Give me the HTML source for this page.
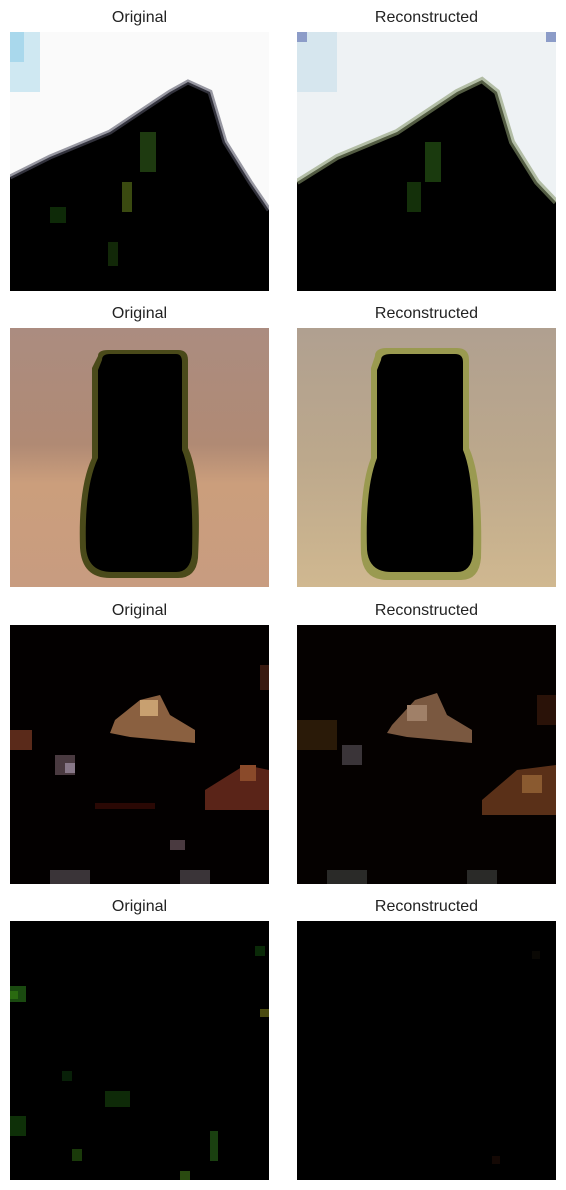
<!DOCTYPE html>
<html><head><meta charset="utf-8"><style>
body{margin:0;background:#fff;width:566px;height:1190px;position:relative;overflow:hidden;font-family:"Liberation Sans","DejaVu Sans",sans-serif}
.t{position:absolute;width:259px;text-align:center;font-size:16px;color:#222}
svg.p{position:absolute;width:259px;height:259px}
</style></head><body>
<div class="t" style="left:10px;top:9px">Original</div>
<div class="t" style="left:297px;top:9px">Reconstructed</div>
<div class="t" style="left:10px;top:305px">Original</div>
<div class="t" style="left:297px;top:305px">Reconstructed</div>
<div class="t" style="left:10px;top:602px">Original</div>
<div class="t" style="left:297px;top:602px">Reconstructed</div>
<div class="t" style="left:10px;top:898px">Original</div>
<div class="t" style="left:297px;top:898px">Reconstructed</div>

<svg class="p" style="left:10px;top:32px" viewBox="0 0 259 259">
<rect width="259" height="259" fill="#fafafa"/>
<rect width="30" height="60" fill="#cfe8f2"/><rect width="14" height="30" fill="#a9d8ec"/>
<polygon points="0,145 40,125 100,100 160,60 178,50 200,60 215,110 240,150 259,178 259,259 0,259" fill="#000"/>
<polyline points="0,145 40,125 100,100 160,60 178,50 200,60 215,110 240,150 259,178" fill="none" stroke="#556" stroke-width="5" opacity=".6"/>
<rect x="130" y="100" width="16" height="40" fill="#1e3a10"/><rect x="112" y="150" width="10" height="30" fill="#3a4a10"/>
<rect x="40" y="175" width="16" height="16" fill="#0e2a08"/><rect x="98" y="210" width="10" height="24" fill="#122808"/>
</svg>
<svg class="p" style="left:297px;top:32px" viewBox="0 0 259 259">
<rect width="259" height="259" fill="#eef2f4"/>
<rect width="40" height="60" fill="#d6e6ee"/><rect width="10" height="10" fill="#8c9cc8"/><rect x="249" width="10" height="10" fill="#8c9cc8"/>
<polygon points="0,150 40,125 100,100 160,60 185,48 200,60 215,110 240,150 259,170 259,259 0,259" fill="#000"/>
<polyline points="0,150 40,125 100,100 160,60 185,48 200,60 215,110 240,150 259,170" fill="none" stroke="#8a9a70" stroke-width="6" opacity=".6"/>
<rect x="128" y="110" width="16" height="40" fill="#1a3a0e"/><rect x="110" y="150" width="14" height="30" fill="#14300a"/>
</svg>

<svg class="p" style="left:10px;top:328px" viewBox="0 0 259 259">
<defs><linearGradient id="g1" x1="0" y1="0" x2="0" y2="1"><stop offset="0" stop-color="#ab8c80"/><stop offset=".45" stop-color="#b08a74"/><stop offset=".6" stop-color="#cb9e7c"/><stop offset="1" stop-color="#c89c80"/></linearGradient></defs>
<rect width="259" height="259" fill="url(#g1)"/>
<path d="M88,28 Q88,22 98,22 L168,22 Q178,22 178,32 L178,120 Q192,150 188,230 Q186,250 168,250 L100,250 Q72,250 70,220 Q68,160 82,130 L82,40 Z" fill="#4a4a1a"/>
<path d="M92,32 Q92,26 100,26 L166,26 Q172,26 172,34 L172,122 Q184,150 182,226 Q180,244 166,244 L102,244 Q78,244 76,220 Q74,160 88,130 L88,42 Z" fill="#000"/>
</svg>
<svg class="p" style="left:297px;top:328px" viewBox="0 0 259 259">
<defs><linearGradient id="g2" x1="0" y1="0" x2="0" y2="1"><stop offset="0" stop-color="#b0a090"/><stop offset=".5" stop-color="#bca88c"/><stop offset="1" stop-color="#d0b890"/></linearGradient></defs>
<rect width="259" height="259" fill="url(#g2)"/>
<path d="M78,28 Q78,20 90,20 L160,20 Q172,20 172,32 L172,120 Q186,150 184,230 Q182,252 164,252 L90,252 Q66,252 64,226 Q62,160 74,130 L74,40 Z" fill="#9a9a50"/>
<path d="M84,32 Q84,26 94,26 L158,26 Q166,26 166,34 L166,122 Q178,150 176,226 Q174,244 160,244 L94,244 Q72,244 70,222 Q68,160 80,130 L80,42 Z" fill="#000"/>
</svg>

<svg class="p" style="left:10px;top:625px" viewBox="0 0 259 259">
<rect width="259" height="259" fill="#030000"/>
<polygon points="105,95 130,75 150,70 160,90 185,105 185,118 120,112 100,108" fill="#8a6040"/>
<rect x="130" y="75" width="18" height="16" fill="#c8a070"/>
<rect x="0" y="105" width="22" height="20" fill="#5a2a1a"/><rect x="45" y="130" width="20" height="20" fill="#4a3a40"/>
<rect x="55" y="138" width="10" height="10" fill="#887888"/>
<polygon points="195,165 235,140 259,145 259,185 195,185" fill="#5a2418"/><rect x="230" y="140" width="16" height="16" fill="#8a4a2a"/>
<rect x="85" y="178" width="60" height="6" fill="#2a0804"/>
<rect x="40" y="245" width="40" height="14" fill="#3a3438"/><rect x="170" y="245" width="30" height="14" fill="#3a3438"/>
<rect x="160" y="215" width="15" height="10" fill="#4a3a40"/><rect x="250" y="40" width="9" height="25" fill="#3a1a10"/>
</svg>
<svg class="p" style="left:297px;top:625px" viewBox="0 0 259 259">
<rect width="259" height="259" fill="#050100"/>
<polygon points="95,100 118,75 140,68 150,90 175,105 175,118 110,112 90,108" fill="#7a5840"/>
<rect x="110" y="80" width="20" height="16" fill="#a08068"/>
<rect x="0" y="95" width="40" height="30" fill="#2a1a08"/><rect x="45" y="120" width="20" height="20" fill="#3a3438"/>
<polygon points="185,175 220,145 259,140 259,190 185,190" fill="#5a3018"/><rect x="225" y="150" width="20" height="18" fill="#8a5a30"/>
<rect x="30" y="245" width="40" height="14" fill="#2a2a28"/><rect x="170" y="245" width="30" height="14" fill="#2a2a28"/>
<rect x="240" y="70" width="19" height="30" fill="#2a1208"/>
</svg>

<svg class="p" style="left:10px;top:921px" viewBox="0 0 259 259">
<rect width="259" height="259" fill="#000"/>
<rect x="0" y="65" width="16" height="16" fill="#1a4a10"/><rect x="0" y="70" width="8" height="8" fill="#2a6a10"/>
<rect x="250" y="88" width="9" height="8" fill="#4a4a10"/><rect x="245" y="25" width="10" height="10" fill="#0a2a08"/>
<rect x="95" y="170" width="25" height="16" fill="#0e2a08"/><rect x="0" y="195" width="16" height="20" fill="#0e3008"/>
<rect x="62" y="228" width="10" height="12" fill="#1a3a0a"/><rect x="200" y="210" width="8" height="30" fill="#1a4010"/>
<rect x="170" y="250" width="10" height="9" fill="#2a4a10"/><rect x="52" y="150" width="10" height="10" fill="#082008"/>
</svg>
<svg class="p" style="left:297px;top:921px" viewBox="0 0 259 259">
<rect width="259" height="259" fill="#000"/>
<rect x="235" y="30" width="8" height="8" fill="#0a0804"/><rect x="195" y="235" width="8" height="8" fill="#140804"/>
</svg>
</body></html>
